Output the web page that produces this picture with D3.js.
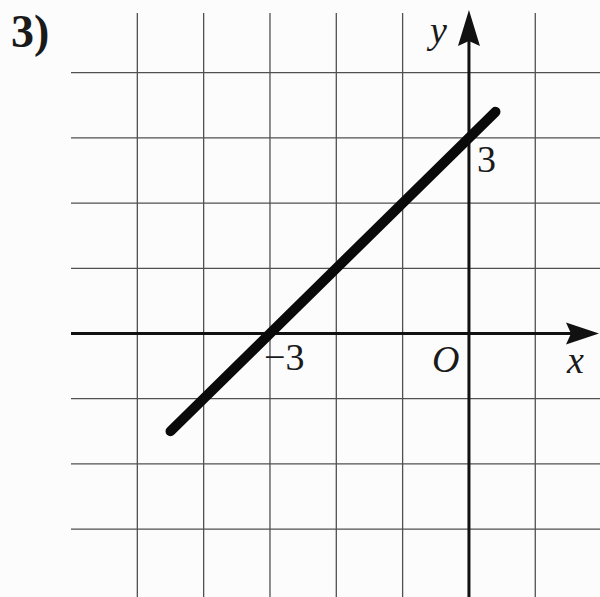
<!DOCTYPE html>
<html><head><meta charset="utf-8">
<script src="https://cdn.jsdelivr.net/npm/d3@7"></script>
<style>html,body{margin:0;padding:0;background:#fcfcfc;}svg{display:block;}</style>
</head><body>
<script>
// Data
const gridX = [-5, -4, -3, -2, -1, 1];
const gridY = [4, 3, 2, 1, -1, -2, -3];
const lineX = [-4.5, 0.4];
const lineY = [-1.5, 3.4];
const tickLabels = [{axis: "x", v: -3, t: "\u22123"}, {axis: "y", v: 3, t: "3"}];

const W = 600, H = 597;
const svg = d3.select("body").append("svg").attr("width", W).attr("height", H);
svg.append("rect").attr("width", W).attr("height", H).attr("fill", "#fcfcfc");

const x = d3.scaleLinear().domain([-6, 2]).range([71, 601.6]);
const y = d3.scaleLinear().domain([4, 0]).range([72.7, 333.5]);

const gridTop = 13, gridLeft = x(-6);

// grid
svg.append("g").selectAll("line").data(gridX).join("line")
  .attr("x1", d => x(d)).attr("x2", d => x(d))
  .attr("y1", gridTop).attr("y2", H)
  .attr("stroke", "#505050").attr("stroke-width", 1.3);
svg.append("g").selectAll("line").data(gridY).join("line")
  .attr("x1", gridLeft).attr("x2", W)
  .attr("y1", d => y(d)).attr("y2", d => y(d))
  .attr("stroke", "#505050").attr("stroke-width", 1.3);

// axes
svg.append("line").attr("x1", gridLeft).attr("x2", 585).attr("y1", y(0)).attr("y2", y(0))
  .attr("stroke", "#111").attr("stroke-width", 3);
svg.append("path").attr("d", `M${599},${y(0)} L${566},${y(0)-11} L${571},${y(0)} L${566},${y(0)+11} Z`).attr("fill", "#111");
svg.append("line").attr("x1", x(0)).attr("x2", x(0)).attr("y1", H).attr("y2", 25)
  .attr("stroke", "#111").attr("stroke-width", 3);
svg.append("path").attr("d", `M${x(0)},${10} L${x(0)-11},${46} L${x(0)},${41} L${x(0)+11},${46} Z`).attr("fill", "#111");

// function line y = x + 3
const lineData = lineX.map((v, i) => [v, lineY[i]]);
svg.append("path").datum(lineData)
  .attr("d", d3.line().x(d => x(d[0])).y(d => y(d[1])))
  .attr("stroke", "#0a0a0a").attr("stroke-width", 10).attr("stroke-linecap", "round").attr("fill", "none");

// labels
const serif = "'Liberation Serif', 'DejaVu Serif', serif";
svg.append("text").attr("x", 11).attr("y", 47).text("3)")
  .attr("font-family", serif).attr("font-weight", "bold").attr("font-size", 46).attr("fill", "#1a1a1a");
svg.append("text").attr("x", 430).attr("y", 43).text("y")
  .attr("font-family", serif).attr("font-style", "italic").attr("font-size", 38).attr("fill", "#1a1a1a");
svg.append("text").attr("x", 432).attr("y", 372).text("O")
  .attr("font-family", serif).attr("font-style", "italic").attr("font-size", 38).attr("fill", "#1a1a1a");
svg.append("text").attr("x", 567).attr("y", 373).text("x")
  .attr("font-family", serif).attr("font-style", "italic").attr("font-size", 38).attr("fill", "#1a1a1a");
tickLabels.forEach(l => {
  if (l.axis === "x") {
    svg.append("text").attr("x", x(l.v) - 6).attr("y", 370).text(l.t)
      .attr("font-family", serif).attr("font-size", 38).attr("fill", "#1a1a1a");
  } else {
    svg.append("text").attr("x", x(0) + 8).attr("y", y(l.v) + 34).text(l.t)
      .attr("font-family", serif).attr("font-size", 38).attr("fill", "#1a1a1a");
  }
});
</script>
</body></html>
